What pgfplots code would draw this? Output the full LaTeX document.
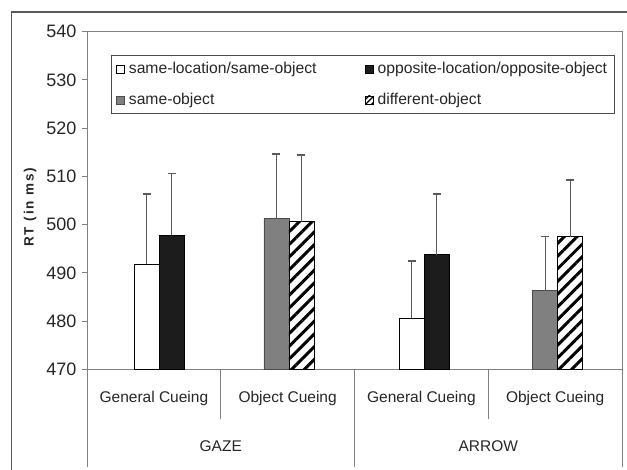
\documentclass[border=0pt]{standalone}
\usepackage{fontspec}
\setmainfont{Liberation Sans}
\usepackage{pgfplots}
\pgfplotsset{compat=1.18}
\usetikzlibrary{patterns.meta}
\definecolor{axgray}{HTML}{808080}
\definecolor{errgray}{HTML}{5A5A5A}
\definecolor{bargray}{HTML}{808080}
\definecolor{barblack}{HTML}{1C1C1C}
\definecolor{txt}{HTML}{262626}
\newcommand{\tickfont}{\fontsize{18}{20}\selectfont}
\newcommand{\legfont}{\fontsize{15.7}{18}\selectfont}
\newcommand{\catfont}{\fontsize{15.5}{18}\selectfont}

\pgfplotstableread{
x y e
0.4465 491.8 14.5
2.4265 480.6 11.9
}\sameloc
\pgfplotstableread{
x y e
0.6335 497.8 12.8
2.6135 493.8 12.5
}\oppoloc
\pgfplotstableread{
x y e
1.4165 501.2 13.4
3.4265 486.4 11.1
}\sameobj
\pgfplotstableread{
x y e
1.6035 500.6 13.8
3.6135 497.5 11.7
}\diffobj

\begin{document}
\begin{tikzpicture}
\begin{scope}
\clip (0pt,0pt) rectangle (627pt,470pt);
\draw[line width=1.1pt, color=black!65] (11.7pt,458pt) rectangle (660pt,-20pt);
\end{scope}
\begin{axis}[
  at={(87pt,100.7pt)}, anchor=south west,
  scale only axis, width=535pt, height=337.6pt,
  xmin=0, xmax=4, ymin=470, ymax=540,
  ytick={470,480,...,540},
  xtick=\empty,
  tick pos=left,
  tick align=outside,
  major tick length=5pt,
  tick style={axgray, line width=1pt},
  axis line style={axgray, line width=1pt},
  clip mode=individual,
  /pgf/number format/assume math mode=true,
  yticklabel style={font=\tickfont, text=txt, xshift=-2pt},
  ylabel={RT (in ms)},
  every axis y label/.style={at={(axis description cs:-0.1065,0.48)}, anchor=center, rotate=90, font=\fontsize{13.5}{16}\selectfont\bfseries\addfontfeatures{LetterSpace=14}, text=txt},
  legend columns=2,
  legend cell align=left,
  legend style={at={(axis description cs:0.0443,0.931)}, anchor=north west,
    draw=black!70, line width=1pt, font=\legfont, text=txt,
    inner xsep=5pt, inner ysep=5pt, row sep=14pt,
    /tikz/every even column/.append style={column sep=0pt}},
  bar width=25pt,
  error bars/y dir=plus,
  error bars/y explicit,
  error bars/error bar style={errgray, line width=1.5pt},
  error bars/error mark options={errgray, line width=1.5pt, mark size=4pt, rotate=90},
]
\addplot[ybar, bar shift=0pt, fill=white, draw=black, line width=0.8pt,
  legend image code/.code={\draw[fill=white, draw=black, line width=0.6pt] (0pt,-4pt) rectangle (8pt,4pt); \path (10pt,0pt);}]
  table[x=x, y=y, y error=e] {\sameloc};
\addlegendentry{\makebox[234pt][l]{same-location/same-object}}
\addplot[ybar, bar shift=0pt, fill=barblack, draw=black, line width=0.8pt,
  legend image code/.code={\draw[fill=barblack, draw=black, line width=0.6pt] (0pt,-4pt) rectangle (8pt,4pt); \path (10pt,0pt);}]
  table[x=x, y=y, y error=e] {\oppoloc};
\addlegendentry{opposite-location/opposite-object}
\addplot[ybar, bar shift=0pt, fill=bargray, draw=black!70, line width=0.8pt,
  legend image code/.code={\draw[fill=bargray, draw=black!70, line width=0.6pt] (0pt,-4pt) rectangle (8pt,4pt); \path (10pt,0pt);}]
  table[x=x, y=y, y error=e] {\sameobj};
\addlegendentry{\makebox[234pt][l]{same-object}}
\addplot[ybar, bar shift=0pt, draw=black, line width=0.8pt,
  pattern={Lines[angle=45, distance=9pt, line width=3pt]}, pattern color=black,
  legend image code/.code={\draw[pattern={Lines[angle=45, distance=4pt, line width=1.5pt]}, pattern color=black, draw=black, line width=0.6pt] (0pt,-4pt) rectangle (8pt,4pt); \path (10pt,0pt);}]
  table[x=x, y=y, y error=e] {\diffobj};
\addlegendentry{different-object}

% category dividers of the two-level axis
\draw[axgray, line width=1pt] (axis cs:1,470) -- ++(0pt,-50pt);
\draw[axgray, line width=1pt] (axis cs:3,470) -- ++(0pt,-50pt);
\draw[axgray, line width=1pt] (axis cs:0,470) -- ++(0pt,-98pt);
\draw[axgray, line width=1pt] (axis cs:2,470) -- ++(0pt,-98pt);
\draw[axgray, line width=1pt] (axis cs:4,470) -- ++(0pt,-98pt);
\node[font=\catfont, text=txt] at ([yshift=-29pt]axis cs:0.5,470) {General Cueing};
\node[font=\catfont, text=txt] at ([yshift=-29pt]axis cs:1.5,470) {Object Cueing};
\node[font=\catfont, text=txt] at ([yshift=-29pt]axis cs:2.5,470) {General Cueing};
\node[font=\catfont, text=txt] at ([yshift=-29pt]axis cs:3.5,470) {Object Cueing};
\node[font=\catfont, text=txt] at ([yshift=-77pt]axis cs:1,470) {GAZE};
\node[font=\catfont, text=txt] at ([yshift=-77pt]axis cs:3,470) {ARROW};
\end{axis}
\pgfresetboundingbox
\path[use as bounding box] (0pt,0pt) rectangle (627pt,470pt);
\end{tikzpicture}
\end{document}
